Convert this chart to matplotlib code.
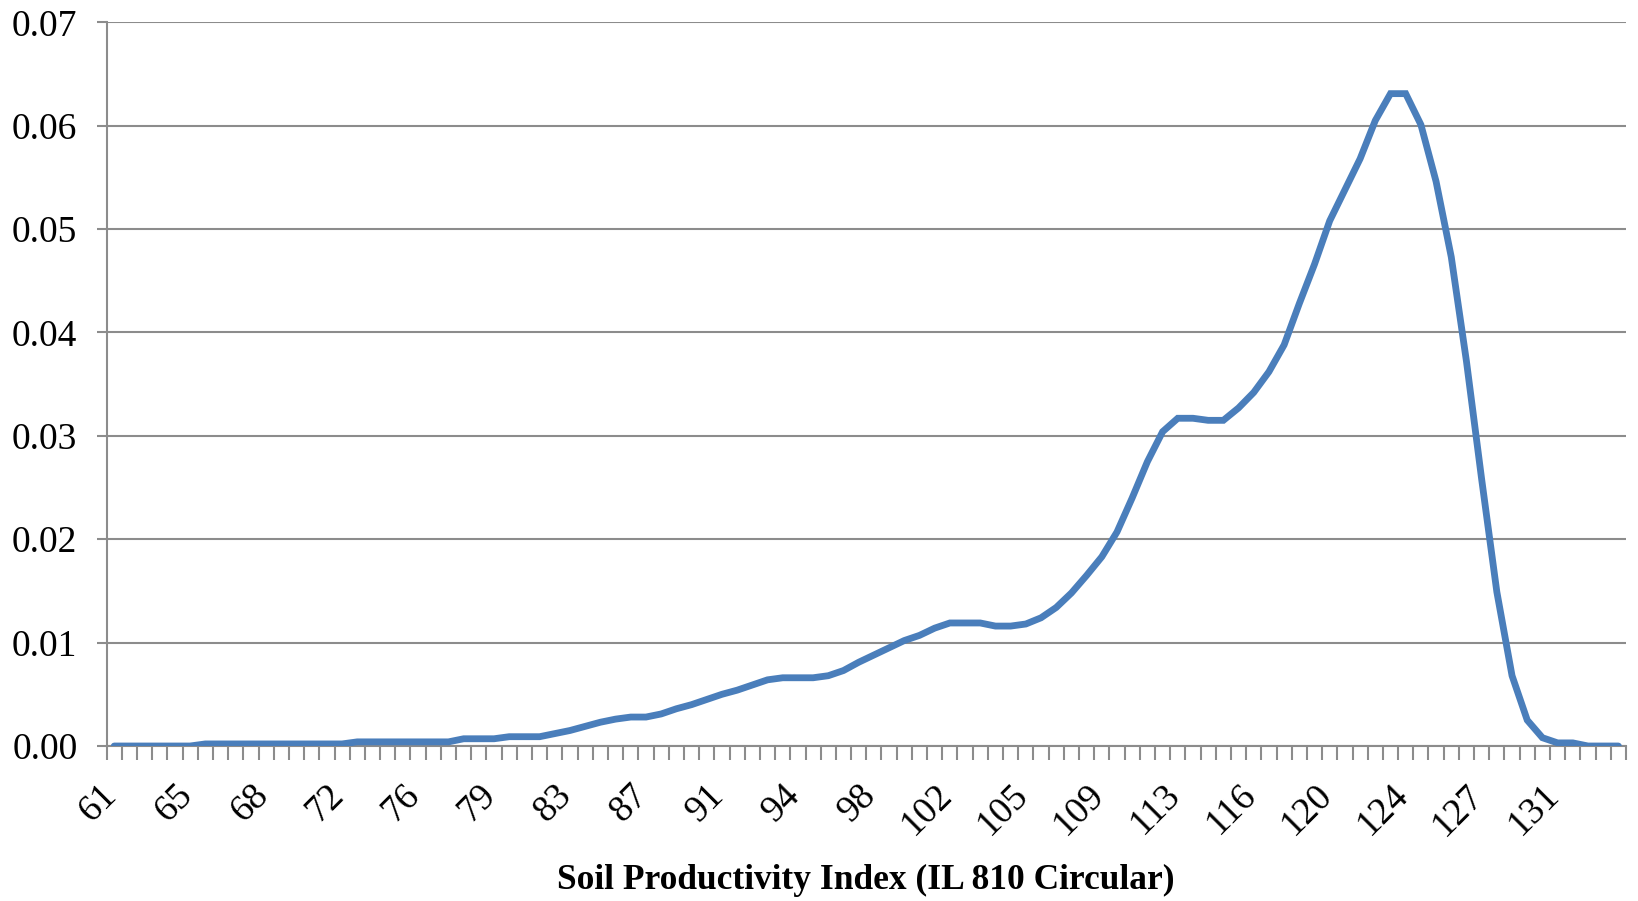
import matplotlib
matplotlib.use("Agg")
import matplotlib.pyplot as plt
import matplotlib.transforms as mtransforms
import numpy as np

# 100 categorical points along the Soil Productivity Index axis
density = [
    0.0000, 0.0000, 0.0000, 0.0000, 0.0000, 0.0000, 0.0002, 0.0002, 0.0002, 0.0002,
    0.0002, 0.0002, 0.0002, 0.0002, 0.0002, 0.0002, 0.0004, 0.0004, 0.0004, 0.0004,
    0.0004, 0.0004, 0.0004, 0.0007, 0.0007, 0.0007, 0.0009, 0.0009, 0.0009, 0.0012,
    0.0015, 0.0019, 0.0023, 0.0026, 0.0028, 0.0028, 0.0031, 0.0036, 0.0040, 0.0045,
    0.0050, 0.0054, 0.0059, 0.0064, 0.0066, 0.0066, 0.0066, 0.0068, 0.0073, 0.0081,
    0.0088, 0.0095, 0.0102, 0.0107, 0.0114, 0.0119, 0.0119, 0.0119, 0.0116, 0.0116,
    0.0118, 0.0124, 0.0134, 0.0148, 0.0165, 0.0183, 0.0207, 0.0240, 0.0275, 0.0304,
    0.0317, 0.0317, 0.0315, 0.0315, 0.0327, 0.0342, 0.0362, 0.0388, 0.0428, 0.0466,
    0.0508, 0.0538, 0.0568, 0.0605, 0.0631, 0.0631, 0.0601, 0.0546, 0.0473, 0.0372,
    0.0258, 0.0149, 0.0068, 0.0025, 0.0008, 0.0003, 0.0003, 0.0000, 0.0000, 0.0000,
]
label_every = 5
tick_labels = ["61", "65", "68", "72", "76", "79", "83", "87", "91", "94",
               "98", "102", "105", "109", "113", "116", "120", "124", "127", "131"]
y_ticks = [0.00, 0.01, 0.02, 0.03, 0.04, 0.05, 0.06, 0.07]
x_title = "Soil Productivity Index (IL 810 Circular)"

W, H = 1638, 901
fig = plt.figure(figsize=(W / 100, H / 100), dpi=100)
ax = fig.add_axes([106.6 / W, 1 - 746 / H, (1626 - 106.6) / W, (746 - 22.3) / H])

n = len(density)
x = np.arange(n)
ax.plot(x, density, color="#4a7ebb", lw=4.9, solid_joinstyle="miter", solid_capstyle="round", zorder=3)

grid_c = "#8c8c8c"
ax.set_xlim(-0.5, n - 0.5)
ax.set_ylim(0, 0.07)
ax.set_yticks(y_ticks)
ax.set_yticklabels([f"{v:.2f}" for v in y_ticks])
ax.yaxis.grid(True, color=grid_c, lw=1.5)
ax.set_axisbelow(True)

# boundary tick marks (between categories)
ax.set_xticks(np.arange(n + 1) - 0.5)
ax.set_xticklabels([])
ax.tick_params(axis="x", which="major", direction="out", length=10, width=1.5, color=grid_c)
# labels every 5th category
lab_pos = x[::label_every][:len(tick_labels)]
ax.set_xticks(lab_pos, minor=True)
ax.set_xticklabels(tick_labels, minor=True, rotation=45, ha="right", va="top",
                   fontsize=27, family="Liberation Serif")
ax.tick_params(axis="x", which="minor", length=0, pad=23)
shift = mtransforms.ScaledTranslation(0.09, 0, fig.dpi_scale_trans)
for lbl in ax.get_xticklabels(minor=True):
    lbl.set_transform(lbl.get_transform() + shift)

ax.tick_params(axis="y", direction="out", length=7, width=1.5, color=grid_c, pad=14)
for lbl in ax.get_yticklabels():
    lbl.set_family("Liberation Serif")
    lbl.set_fontsize(27)

for s in ["top", "right"]:
    ax.spines[s].set_visible(False)
for s in ["left", "bottom"]:
    ax.spines[s].set_color(grid_c)
    ax.spines[s].set_linewidth(1.5)

fig.text(866 / W, 1 - 880 / H, x_title, ha="center", va="center",
         fontsize=25.5, fontweight="bold", family="Liberation Serif")

fig.savefig("out.png", dpi=100, facecolor="white")
